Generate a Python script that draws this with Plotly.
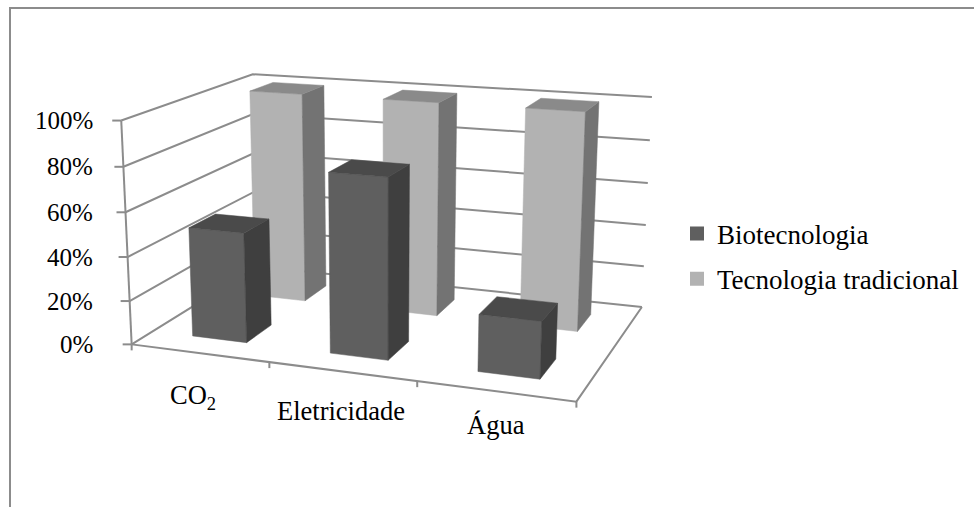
import numpy as np
import plotly.graph_objects as go

# ---- data ----
categories = ["CO<sub>2</sub>", "Eletricidade", "Água"]
biotecnologia = [0.50, 0.80, 0.25]
tradicional = [1.00, 1.00, 1.00]
tick_values = [0.0, 0.2, 0.4, 0.6, 0.8, 1.0]
tick_labels = ["0%", "20%", "40%", "60%", "80%", "100%"]

# ---- oblique 3-D view of the Excel chart (category, depth, value) -> pixels ----
VIEW = np.array([[128.466207, 170.126005, -15.237056, 131.645106],
                 [5.304194, -31.633648, -228.613731, 344.370614],
                 [-0.034326, 0.173534, -0.039842, 1.0]])
BAR_X = (0.30, 0.70)
DEPTH_BIO = (0.15, 0.35)
DEPTH_TRAD = (0.65, 0.85)
LABEL_SHIFT = [(-6, 44), (-1, 40), (1, 34)]
GRID = "#8c8c8c"


def project(points):
    pts = np.atleast_2d(np.array(points, float))
    h = np.c_[pts, np.ones(len(pts))] @ VIEW.T
    return h[:, :2] / h[:, 2:]


def poly_trace(points, color):
    xy = project(points)
    return go.Scatter(x=list(xy[:, 0]) + [xy[0, 0]], y=list(xy[:, 1]) + [xy[0, 1]],
                      mode="lines", fill="toself", fillcolor=color,
                      line=dict(width=0.5, color=color), hoverinfo="skip", showlegend=False)


def bar_traces(i, value, depth, colors):
    x0, x1 = i + BAR_X[0], i + BAR_X[1]
    y0, y1 = depth
    front, side, top = colors
    return [
        poly_trace([(x0, y0, 0), (x1, y0, 0), (x1, y0, value), (x0, y0, value)], front),
        poly_trace([(x1, y0, 0), (x1, y1, 0), (x1, y1, value), (x1, y0, value)], side),
        poly_trace([(x0, y0, value), (x1, y0, value), (x1, y1, value), (x0, y1, value)], top),
    ]


def polyline(segments):
    xs, ys = [], []
    for seg in segments:
        xy = project(seg)
        xs += list(xy[:, 0]) + [None]
        ys += list(xy[:, 1]) + [None]
    return xs, ys


fig = go.Figure()

# walls and floor
n = len(categories)
grid = [[(0, 0, v), (0, 1, v), (n, 1, v)] for v in tick_values]
grid.append([(0, 0, 0), (0, 0, 1)])
grid.append([(0, 0, 0), (n, 0, 0), (n, 1, 0)])
xs, ys = polyline(grid)
fig.add_trace(go.Scatter(x=xs, y=ys, mode="lines", line=dict(color=GRID, width=2),
                         hoverinfo="skip", showlegend=False))
# tick marks
tx, ty = [], []
for v in tick_values:
    p = project([(0, 0, v)])[0]
    tx += [p[0] - 9, p[0], None]
    ty += [p[1], p[1], None]
for i in range(n + 1):
    p = project([(i, 0, 0)])[0]
    tx += [p[0], p[0], None]
    ty += [p[1], p[1] + 6, None]
fig.add_trace(go.Scatter(x=tx, y=ty, mode="lines", line=dict(color=GRID, width=2),
                         hoverinfo="skip", showlegend=False))

# bars, back row first
for i, v in enumerate(tradicional):
    for t in bar_traces(i, v, DEPTH_TRAD, ("#b2b2b2", "#737373", "#8a8a8a")):
        fig.add_trace(t)
for i, v in enumerate(biotecnologia):
    for t in bar_traces(i, v, DEPTH_BIO, ("#5f5f5f", "#3f3f3f", "#4a4a4a")):
        fig.add_trace(t)

# legend entries
fig.add_trace(go.Scatter(x=[None], y=[None], mode="markers", name="Biotecnologia", legendgroup="a",
                         marker=dict(symbol="square", size=14, color="#5f5f5f")))
fig.add_trace(go.Scatter(x=[None], y=[None], mode="markers", name="Tecnologia tradicional", legendgroup="b",
                         marker=dict(symbol="square", size=14, color="#b2b2b2")))

ann = []
for v, lab in zip(tick_values, tick_labels):
    p = project([(0, 0, v)])[0]
    ann.append(dict(x=95, y=p[1], text=lab, xref="x", yref="y", xanchor="right", yanchor="middle",
                    showarrow=False, font=dict(family="Liberation Serif", size=25, color="black")))
for i, lab in enumerate(categories):
    p = project([(i + 0.5, 0, 0)])[0]
    ann.append(dict(x=p[0] + LABEL_SHIFT[i][0], y=p[1] + LABEL_SHIFT[i][1], text=lab, xref="x", yref="y",
                    xanchor="center", yanchor="middle", showarrow=False,
                    font=dict(family="Liberation Serif", size=26.5, color="black")))

fig.update_layout(
    width=974, height=507, autosize=False, margin=dict(l=0, r=0, t=0, b=0),
    paper_bgcolor="white", plot_bgcolor="white",
    xaxis=dict(range=[0, 974], visible=False, fixedrange=True),
    yaxis=dict(range=[507, 0], visible=False, fixedrange=True),
    annotations=ann,
    legend=dict(x=677 / 974, y=1 - 209.5 / 507, xanchor="left", yanchor="top", bgcolor="rgba(0,0,0,0)",
                font=dict(family="Liberation Serif", size=27, color="black"), tracegroupgap=7,
                itemclick=False, itemdoubleclick=False),
    shapes=[
        dict(type="line", xref="paper", yref="paper", x0=9 / 974, x1=1, y0=1 - 8 / 507, y1=1 - 8 / 507,
             line=dict(color=GRID, width=1.8)),
        dict(type="line", xref="paper", yref="paper", x0=10 / 974, x1=10 / 974, y0=1 - 8 / 507, y1=0,
             line=dict(color=GRID, width=2)),
    ],
)
fig.write_html("out.html", config=dict(displayModeBar=False),
               post_script="document.body.style.margin='0';document.documentElement.style.overflow='hidden';")
